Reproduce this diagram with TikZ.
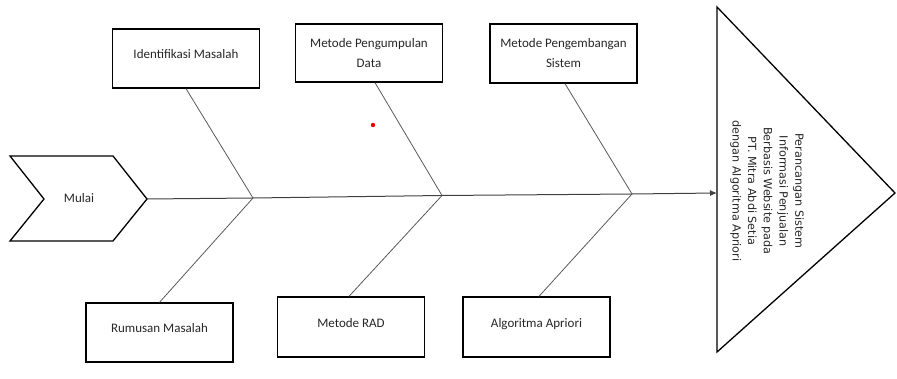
\documentclass[tikz,border=0pt]{standalone}
\usepackage{fontspec}
\setmainfont{Carlito}
\newfontfamily\trifont{DejaVu Sans}
\usetikzlibrary{arrows.meta}
\tikzset{
  box/.style={draw=black, line width=1.3pt, minimum width=147pt, minimum height=59pt, inner sep=0pt,
    font=\fontsize{13}{20}\selectfont, align=center, text=black!85},
  onebox/.style={box, text height=8pt, text depth=8pt},
  bone/.style={draw=black!65, line width=0.8pt},
  spine/.style={draw=black!75, line width=1pt},
  outline/.style={draw=black, line width=1.3pt, line join=miter}
}
\begin{document}
\begin{tikzpicture}[x=1pt,y=-1pt]
\useasboundingbox (0,0) rectangle (897,379);
% start chevron
\draw[outline] (10,156) -- (113,156) -- (147,199) -- (113,241) -- (10,241) -- (44,199) -- cycle;
\coordinate (tip) at (147,199);
\node[font=\fontsize{13}{15}\selectfont, text=black!85] (mulai) at (79,198) {Mulai};
% head triangle
\draw[outline] (717,7) -- (895,193) -- (717,352) -- cycle;
\coordinate (head) at (717,193);
\node[rotate=-90, align=center, text=black!85, font=\trifont\fontsize{11.2}{15.7}\selectfont] (effect) at (767,191)
  {Perancangan Sistem\\Informasi Penjualan\\Berbasis Website pada\\PT. Mitra Abdi Setia\\dengan Algoritma Apriori};
% junctions
\coordinate (j1) at (253,198);
\coordinate (j2) at (442,195.5);
\coordinate (j3) at (632,194);
% spine
\draw[spine] (tip) -- (j1) -- (j2) -- (j3);
\draw[spine, -{Latex[length=7pt,width=6pt]}] (j3) -- (head);
% boxes
\node[onebox] (im) at (186,58.5) {Identifikasi Masalah};
\node[box, minimum height=58pt] (pd) at (369,53) {Metode Pengumpulan\\Data};
\node[box] (ps) at (563.5,53.5) {Metode Pengembangan\\Sistem};
\node[onebox] (rm) at (159.5,332.5) {Rumusan Masalah};
\node[onebox, minimum height=60pt] (rad) at (351,327) {Metode RAD};
\node[onebox, minimum height=60pt] (ap) at (536.5,327) {Algoritma Apriori};
% bones
\draw[bone] (im.south) -- (j1);
\draw[bone] ([xshift=6pt]pd.south) -- (j2);
\draw[bone] ([xshift=1.5pt]ps.south) -- (j3);
\draw[bone] (rm.north) -- (j1);
\draw[bone] ([xshift=-2pt]rad.north) -- (j2);
\draw[bone] ([xshift=2.5pt]ap.north) -- (j3);
% red dot
\fill[red!90!black] (373,125) circle (2.2pt);
\end{tikzpicture}
\end{document}
